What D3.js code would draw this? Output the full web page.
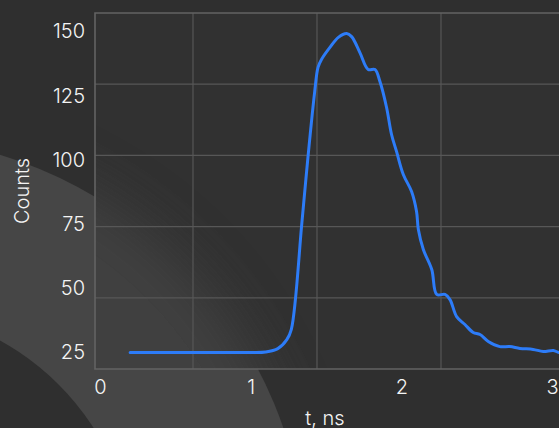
<!DOCTYPE html>
<html>
<head>
<meta charset="utf-8">
<script src="https://cdn.jsdelivr.net/npm/d3@7"></script>
<style>
  html, body { margin: 0; padding: 0; background: #2f2f2f; overflow: hidden; }
  svg { display: block; }
  text { font-family: Inter, "Noto Sans", sans-serif; fill: #f4f4f4; }
</style>
</head>
<body>
<script>
// decay curve: time (ns) and counts
var times = [0.2, 0.6, 1.0, 1.1, 1.18, 1.24, 1.27, 1.34, 1.38, 1.425, 1.447, 1.47, 1.526, 1.582,
  1.637, 1.67, 1.725, 1.78, 1.825, 1.858, 1.902, 1.935, 1.968, 2.013, 2.068, 2.101, 2.113,
  2.146, 2.202, 2.235, 2.29, 2.323, 2.367, 2.422, 2.477, 2.522, 2.577, 2.654, 2.72, 2.787,
  2.875, 2.942, 3.009, 3.046, 3.1];
var counts = [25, 25, 25, 25.2, 26.5, 30, 34, 75.6, 100.9, 126.6, 136, 139.1, 143.8, 147.7,
  149.2, 148, 141.8, 135.2, 135.2, 130.5, 120.4, 109.9, 103.3, 94.3, 87.7, 79.9, 72.9,
  65.1, 57.3, 47.6, 47.6, 45.6, 39, 35.9, 32.8, 32, 29.3, 27.3, 27.3, 26.6,
  26.2, 25.4, 25.8, 25, 25];

var x_ticks = [0, 1, 2, 3];
var y_ticks = [25, 50, 75, 100, 125, 150];
var x_title = 't, ns', y_title = 'Counts';

var width = 559, height = 428;
var frame = {left: 95, top: 13, right: 580, bottom: 369};
var font = 'Inter, "Noto Sans", sans-serif';

var svg = d3.select('body').append('svg').attr('width', width).attr('height', height);
var defs = svg.append('defs');
defs.append('clipPath').attr('id', 'plotclip').append('rect')
  .attr('x', frame.left).attr('y', frame.top)
  .attr('width', frame.right - frame.left).attr('height', frame.bottom - frame.top);
defs.append('filter').attr('id', 'blur').attr('x', '-50%').attr('y', '-50%').attr('width', '200%').attr('height', '200%')
  .append('feGaussianBlur').attr('stdDeviation', 28);

// backdrop: big ring in the lower left corner
var cx = -126, cy = 569;
function draw_ring(g)  {
  g.append('circle').attr('cx', cx).attr('cy', cy).attr('r', 433).attr('fill', '#464646');
  g.append('circle').attr('cx', cx).attr('cy', cy).attr('r', 261).attr('fill', '#2f2f2f');
}
svg.append('rect').attr('width', width).attr('height', height).attr('fill', '#2f2f2f');
draw_ring(svg.append('g'));

// plot panel, with the ring seen blurred through it
var panel = svg.append('g').attr('clip-path', 'url(#plotclip)');
panel.append('rect').attr('x', frame.left).attr('y', frame.top)
  .attr('width', frame.right - frame.left).attr('height', frame.bottom - frame.top).attr('fill', '#313131');
var blurred = panel.append('g').attr('filter', 'url(#blur)').attr('opacity', 0.7);
draw_ring(blurred);

// grid (panel divided evenly, independent of the tick labels)
var grid_x = d3.scaleLinear().domain([0, 4]).range([69, 565]);
var grid_y = d3.scaleLinear().domain([0, 5]).range([frame.bottom, frame.top]);
panel.selectAll('.gx').data([1, 2, 3]).enter().append('line')
  .attr('x1', d => grid_x(d)).attr('x2', d => grid_x(d))
  .attr('y1', frame.top).attr('y2', frame.bottom)
  .attr('stroke', '#575757').attr('stroke-width', 1.2);
panel.selectAll('.gy').data([1, 2, 3, 4]).enter().append('line')
  .attr('x1', frame.left).attr('x2', frame.right)
  .attr('y1', d => grid_y(d)).attr('y2', d => grid_y(d))
  .attr('stroke', '#575757').attr('stroke-width', 1.2);
svg.append('path')
  .attr('d', 'M' + frame.right + ',' + frame.top + 'H' + frame.left + 'V' + frame.bottom + 'H' + frame.right)
  .attr('fill', 'none').attr('stroke', '#636363').attr('stroke-width', 1.6);

// data scales
var x_scale = d3.scaleLinear().domain([0, 3]).range([100, 552]);
var y_scale = d3.scaleLinear().domain([25, 150]).range([352.5, 31.5]);

var data = times.map((t, i) => ({t: t, c: counts[i]}));
var line = d3.line().x(d => x_scale(d.t)).y(d => y_scale(d.c)).curve(d3.curveCatmullRom.alpha(0.5));
svg.append('path').datum(data)
  .attr('d', line)
  .attr('fill', 'none').attr('stroke', '#2d7cf8').attr('stroke-width', 3)
  .attr('stroke-linejoin', 'round').attr('stroke-linecap', 'round');

// axes: labels only
var x_axis = svg.append('g').attr('transform', 'translate(0,' + 387 + ')')
  .call(d3.axisBottom(x_scale).tickValues(x_ticks).tickFormat(d3.format('d')).tickSize(0).tickPadding(0));
var y_axis = svg.append('g').attr('transform', 'translate(' + 85 + ',0)')
  .call(d3.axisLeft(y_scale).tickValues(y_ticks).tickFormat(d3.format('d')).tickSize(0).tickPadding(0));
[x_axis, y_axis].forEach(function(a)  {
  a.select('.domain').remove();
  a.selectAll('text').style('font-family', font).style('font-size', '20px')
    .style('font-weight', 300).attr('fill', '#f4f4f4');
});
x_axis.selectAll('text').attr('dy', '0.35em').attr('y', 0);

svg.append('text').attr('x', 325).attr('y', 418).attr('dy', '0.35em')
  .attr('text-anchor', 'middle').style('font-size', '20px').style('font-weight', 300).text(x_title);
svg.append('text').attr('transform', 'translate(22,191) rotate(-90)').attr('dy', '0.35em')
  .attr('text-anchor', 'middle').style('font-size', '20px').style('font-weight', 300).text(y_title);
</script>
</body>
</html>
